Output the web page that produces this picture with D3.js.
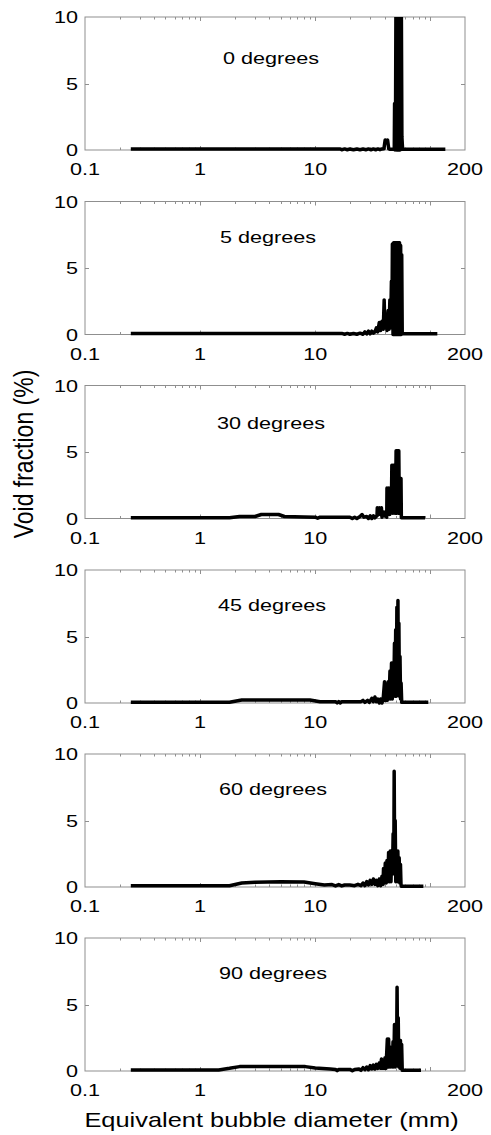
<!DOCTYPE html>
<html>
<head>
<meta charset="utf-8">
<script src="https://cdn.jsdelivr.net/npm/d3@7"></script>
<style>
  html, body { margin: 0; padding: 0; background: #fff; }
  svg { display: block; }
  text { font-family: "Liberation Sans", Arial, Helvetica, sans-serif; fill: #000; }
</style>
</head>
<body>
<svg id="chart" width="491" height="1135"></svg>
<script>
// ---------- data (diameter in mm, void fraction in %) ----------
const panelLabels = ["0 degrees", "5 degrees", "30 degrees", "45 degrees", "60 degrees", "90 degrees"];

const deg0 = [[0.25,0.08],[16.5,0.08],[17,0.02],[18,0.08],[19,0.02],[20,0.08],[21.5,0.02],[23,0.08],[24.5,0.02],[26,0.08],[27.5,0.02],[29,0.08],[30.5,0.02],[32,0.08],[33.5,0.02],[35,0.08],[36.5,0.02],[38,0.08],[39.5,0.1],[40.5,0.75],[41.5,0.55],[42.5,0.75],[43.5,0.1],[44.5,0.05],[48.6,0.05],[48.9,3.5],[49.4,0],[49.9,3.5],[50.3,12],[50.9,0],[51.5,12],[52.1,0],[52.7,12],[53.3,0],[53.9,12],[54.5,0],[55.1,12],[55.6,2],[55.9,12],[56.6,1],[57.4,0.05],[135,0.05]];

const deg5 = [[0.25,0.08],[17,0.08],[18,0.02],[19,0.08],[20,0.02],[21.5,0.08],[23,0.02],[24.5,0.1],[26,0.02],[27,0.2],[28,0.05],[29,0.25],[30,0.05],[31,0.25],[32,0.1],[33,0.2],[34,0.5],[35,0.2],[36,0.9],[37,0.3],[38,1.0],[39,0.4],[39.7,2.6],[40.3,0.5],[41,1.3],[42,0.3],[43,1.8],[43.8,0.4],[44.5,2.6],[45.2,0.5],[45.9,4.0],[46.4,1],[46.8,6.8],[47.4,0],[48,6.9],[48.6,0],[49.2,6.9],[49.8,0],[50.4,6.9],[51,0],[51.6,6.9],[52.2,0],[52.8,6.9],[53.4,0],[54,6.9],[54.6,0],[55.2,6.7],[55.8,0],[56.4,6.0],[57,0.05],[115,0.05]];

const deg30 = [[0.25,0.05],[1.8,0.05],[2.2,0.15],[3,0.15],[3.4,0.3],[4.8,0.3],[5.4,0.15],[8,0.12],[10,0.1],[10.5,0.02],[11,0.1],[20,0.1],[21,0],[22,0.1],[23,0],[24.5,0.15],[25.5,0.3],[26.5,0.1],[28,0.15],[29,0],[30,0.2],[31,0],[32,0.2],[33,0.05],[34.4,0.2],[34.6,0.8],[35.5,0.3],[36.3,0.8],[37,0.3],[37.6,0.8],[38,0.1],[39,0.5],[40,0.2],[41,0.5],[41.8,0.1],[42,2.3],[42.8,0.3],[43.6,2.3],[44.4,0.3],[45.3,2.3],[45.9,1.2],[46.3,4.0],[47,0.4],[47.7,4.0],[48.4,0.4],[49.1,4.0],[49.8,0.4],[50.4,5.1],[51.1,0.4],[51.8,5.1],[52.5,0.4],[53.2,5.1],[53.8,0.4],[54.4,3.0],[55,0.4],[55.6,3.0],[56,0.05],[90,0.05]];

const deg45 = [[0.25,0.05],[1.8,0.05],[2.3,0.22],[9,0.22],[11,0.1],[15,0.1],[15.5,0],[16,0.1],[16.5,0],[17,0.1],[25,0.1],[26,0.2],[27,0.05],[28.5,0.2],[29.5,0.05],[31,0.35],[32,0.1],[33,0.45],[34,0.1],[35,0.3],[36,0],[37,0.3],[38,0],[39,0.4],[40,1.6],[40.6,0.2],[41.5,1.0],[42.2,0.2],[43,1.6],[43.8,0.3],[44.6,2.4],[45.3,0.3],[46,3.0],[46.7,0.3],[47.4,3.0],[48.1,0.5],[48.8,4.5],[49.4,0.5],[50,5.5],[50.6,0.5],[51.2,7.2],[51.8,0.8],[52.3,7.7],[52.8,0.8],[53.3,6.0],[53.9,0.5],[54.5,3.5],[55.1,0.3],[55.7,1.5],[56.4,0.05],[96,0.05]];

const deg60 = [[0.25,0.1],[1.8,0.1],[2.3,0.3],[3,0.35],[5,0.4],[8,0.38],[10,0.25],[12,0.15],[14,0.18],[15,0.08],[16,0.18],[17,0.08],[18,0.15],[20,0.15],[22,0.1],[23.5,0.2],[25,0.1],[26,0.3],[27,0.1],[28,0.4],[29,0.15],[30,0.5],[31,0.2],[32,0.6],[33,0.2],[34,0.5],[35,0.1],[36,0.6],[37,0.1],[38,0.8],[38.8,0.2],[39.2,1.4],[39.9,0.3],[40.6,1.8],[41.3,0.3],[42,2.0],[42.7,0.4],[43.4,2.6],[44.1,0.4],[44.8,2.7],[45.5,0.4],[46.2,2.7],[46.9,1.0],[47.5,4.0],[48.1,1.0],[48.5,8.7],[49,1.5],[49.5,5.0],[50.1,0.4],[50.8,2.7],[51.5,0.4],[52.2,2.7],[52.9,0.4],[53.6,2.2],[54.3,0.3],[55,1.7],[55.6,0.2],[56,0.05],[87,0.05]];

const deg90 = [[0.25,0.08],[1.45,0.08],[1.8,0.2],[2.2,0.33],[8.2,0.33],[10,0.22],[13.5,0.15],[15,0.12],[15.5,0.02],[16,0.12],[20,0.12],[21,0.02],[22,0.12],[24,0.15],[25,0.05],[26,0.25],[27,0.1],[28,0.3],[29,0.1],[30,0.4],[31,0.15],[32,0.45],[33,0.15],[34,0.5],[35,0.2],[36,0.6],[37,0.2],[37.6,0.9],[38.3,0.2],[39,0.8],[39.7,0.2],[40.4,1.0],[41.1,0.2],[41.8,1.4],[42.3,2.4],[42.9,0.3],[43.4,2.4],[44,0.3],[44.6,1.8],[45.3,0.3],[46,1.7],[46.7,0.3],[47.4,2.2],[48.1,0.3],[48.8,3.5],[49.5,0.3],[50.2,3.5],[50.8,0.4],[51.4,6.3],[52,0.5],[52.6,4.0],[53.2,0.3],[53.8,2.3],[54.4,0.2],[55,2.3],[55.6,0.2],[56.3,2.0],[57,0.05],[83,0.05]];

const panelData = [deg0, deg5, deg30, deg45, deg60, deg90];

const xDomain = [0.1, 200];
const yDomain = [0, 10];
const xTickValues = [0.1, 1, 10, 200];
const xTickLabels = ["0.1", "1", "10", "200"];
const xMajorTicks = [1, 10, 100];
const xMinorTicks = [0.2,0.3,0.4,0.5,0.6,0.7,0.8,0.9,2,3,4,5,6,7,8,9,20,30,40,50,60,70,80,90];
const yTickValues = [0, 5, 10];

// ---------- layout ----------
const svg = d3.select("#chart");
const L = 85, R = 465, H = 133;
const tops = [17, 201.5, 385.5, 570, 754, 938];
const labelX = [271, 268, 271, 272, 273, 273];
const labelDY = [47, 41, 43, 41, 41, 41];
const SX = 1.27; // horizontal text stretch of the original figure
const frameColor = "#8f8f8f";

const x = d3.scaleLog().domain(xDomain).range([L, R]);

const defs = svg.append("defs");

panelData.forEach((data, i) => {
  const top = tops[i], bottom = top + H;
  const y = d3.scaleLinear().domain(yDomain).range([bottom, top]);
  const g = svg.append("g");

  defs.append("clipPath").attr("id", "clip" + i)
    .append("rect").attr("x", L - 5).attr("y", top).attr("width", R - L + 10).attr("height", H + 6);

  // frame
  g.append("rect").attr("x", L).attr("y", top).attr("width", R - L).attr("height", H)
    .attr("fill", "none").attr("stroke", frameColor).attr("stroke-width", 1);

  // x ticks (inward, top & bottom)
  const tk = g.append("g").attr("stroke", frameColor).attr("stroke-width", 1);
  xMajorTicks.forEach(v => {
    const xx = Math.round(x(v)) + 0.5;
    tk.append("line").attr("x1", xx).attr("x2", xx).attr("y1", bottom).attr("y2", bottom - 4);
    tk.append("line").attr("x1", xx).attr("x2", xx).attr("y1", top).attr("y2", top + 4);
  });
  xMinorTicks.forEach(v => {
    const xx = Math.round(x(v)) + 0.5;
    tk.append("line").attr("x1", xx).attr("x2", xx).attr("y1", bottom).attr("y2", bottom - 2.5);
    tk.append("line").attr("x1", xx).attr("x2", xx).attr("y1", top).attr("y2", top + 2.5);
  });
  // y ticks at middle value (inward, both sides)
  yTickValues.slice(1, -1).forEach(v => {
    const yy = Math.round(y(v)) + 0.5;
    tk.append("line").attr("x1", L).attr("x2", L + 4).attr("y1", yy).attr("y2", yy);
    tk.append("line").attr("x1", R).attr("x2", R - 4).attr("y1", yy).attr("y2", yy);
  });

  // y tick labels
  yTickValues.forEach(v => {
    g.append("text")
      .attr("transform", `translate(78,${y(v) + 6}) scale(${SX},1)`)
      .attr("text-anchor", "end").attr("font-size", 17).text(String(v));
  });
  // x tick labels
  xTickValues.forEach((v, k) => {
    g.append("text")
      .attr("transform", `translate(${x(v)},${bottom + 25}) scale(${SX},1)`)
      .attr("text-anchor", "middle").attr("font-size", 17).text(xTickLabels[k]);
  });

  // panel label
  g.append("text")
    .attr("transform", `translate(${labelX[i]},${top + labelDY[i]}) scale(${SX},1)`)
    .attr("text-anchor", "middle").attr("font-size", 17).text(panelLabels[i]);

  // data line
  const line = d3.line().x(d => x(d[0])).y(d => y(d[1]));
  g.append("path").datum(data)
    .attr("clip-path", `url(#clip${i})`)
    .attr("d", line)
    .attr("fill", "none").attr("stroke", "#000")
    .attr("stroke-width", 3.5).attr("stroke-linejoin", "round");
});

// axis titles
svg.append("text")
  .attr("transform", `translate(271.5,1127) scale(1.24,1)`)
  .attr("text-anchor", "middle").attr("font-size", 20.5)
  .text("Equivalent bubble diameter (mm)");

svg.append("text")
  .attr("transform", `translate(33,454) rotate(-90) scale(1,1.2)`)
  .attr("text-anchor", "middle").attr("font-size", 23)
  .text("Void fraction (%)");
</script>
</body>
</html>
